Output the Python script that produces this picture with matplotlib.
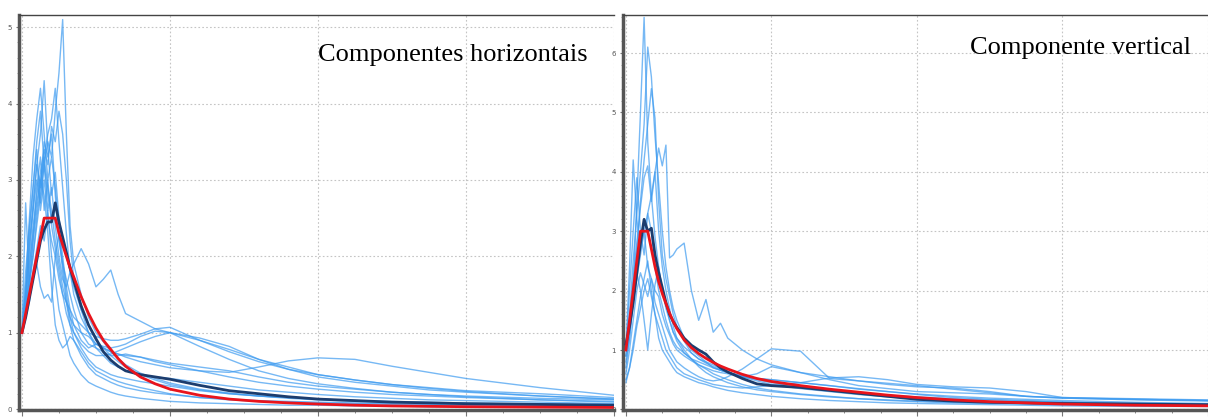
import numpy as np
import matplotlib
matplotlib.use('Agg')
import matplotlib.pyplot as plt
from matplotlib.ticker import MultipleLocator

# periods (s)
periods = [0, .025, .05, .075, .1, .125, .15, .175, .2, .225, .25, .275, .3, .325, .35, .4, .45, .5,
           .55, .6, .65, .7, .8, .9, 1.0, 1.2, 1.4, 1.6, 1.8, 2.0, 2.25, 2.5, 2.75, 3.0, 3.5, 4.0]

# horizontal components - individual records
h_records = [
    [1, 1.3, 1.7, 2.0, 2.4, 2.8, 3.2, 3.5, 3.3, 3.9, 4.4, 5.1, 3.6, 2.4, 1.9, 1.5, 1.2, 1.0,
     0.88, 0.75, 0.66, 0.58, 0.47, 0.40, 0.34, 0.26, 0.21, 0.17, 0.15, 0.13, 0.11, 0.10, 0.09, 0.08, 0.07, 0.06],
    [1, 1.5, 2.2, 2.6, 3.2, 3.6, 4.3, 3.4, 2.8, 3.1, 2.5, 2.2, 2.0, 1.8, 1.9, 2.1, 1.9, 1.6,
     1.7, 1.82, 1.5, 1.25, 1.15, 1.05, 1.0, 0.9, 0.78, 0.65, 0.55, 0.45, 0.38, 0.32, 0.28, 0.24, 0.2, 0.15],
    [1, 1.4, 1.9, 2.3, 2.7, 3.0, 3.3, 3.6, 3.8, 4.2, 3.5, 2.9, 2.3, 1.8, 1.5, 1.2, 1.0, 0.85,
     0.8, 0.75, 0.72, 0.68, 0.62, 0.58, 0.54, 0.5, 0.48, 0.55, 0.63, 0.67, 0.65, 0.56, 0.48, 0.40, 0.28, 0.18],
    [1, 1.8, 2.4, 2.9, 3.4, 2.6, 3.0, 2.5, 2.2, 2.0, 1.7, 1.5, 1.4, 1.3, 1.2, 1.1, 1.0, 0.95,
     0.92, 0.9, 0.9, 0.92, 0.98, 1.05, 1.07, 0.9, 0.75, 0.62, 0.52, 0.42, 0.35, 0.3, 0.25, 0.22, 0.17, 0.13],
    [1, 2.7, 1.6, 2.2, 2.9, 3.3, 2.6, 3.0, 2.4, 2.1, 1.8, 1.5, 1.25, 1.1, 1.0, 0.85, 0.75, 0.7,
     0.7, 0.72, 0.76, 0.8, 0.88, 0.95, 1.0, 0.82, 0.65, 0.5, 0.4, 0.33, 0.27, 0.22, 0.19, 0.16, 0.12, 0.09],
    [1, 1.2, 1.5, 1.7, 1.9, 1.6, 1.45, 1.5, 1.4, 2.0, 2.3, 1.9, 1.5, 1.2, 1.0, 0.8, 0.65, 0.55,
     0.5, 0.45, 0.42, 0.4, 0.36, 0.33, 0.3, 0.24, 0.2, 0.17, 0.15, 0.13, 0.11, 0.09, 0.08, 0.07, 0.06, 0.05],
    [1, 1.6, 2.5, 3.3, 3.8, 4.2, 3.6, 3.0, 3.3, 2.9, 2.4, 2.0, 1.6, 1.3, 1.1, 0.9, 0.8, 0.85,
     0.8, 0.75, 0.72, 0.7, 0.68, 0.62, 0.58, 0.5, 0.42, 0.35, 0.3, 0.26, 0.22, 0.19, 0.17, 0.15, 0.12, 0.1],
    [1, 1.3, 1.8, 2.4, 2.8, 3.1, 3.4, 3.2, 3.7, 3.5, 3.9, 3.6, 3.0, 2.2, 1.7, 1.3, 1.1, 0.9,
     0.8, 0.7, 0.62, 0.55, 0.45, 0.38, 0.32, 0.25, 0.2, 0.17, 0.14, 0.12, 0.1, 0.09, 0.08, 0.07, 0.05, 0.04],
    [1, 1.4, 2.0, 2.6, 3.0, 2.7, 3.2, 2.8, 2.5, 2.7, 2.3, 1.8, 1.4, 1.1, 0.9, 0.7, 0.55, 0.45,
     0.4, 0.35, 0.31, 0.28, 0.24, 0.21, 0.19, 0.15, 0.13, 0.11, 0.1, 0.09, 0.08, 0.07, 0.06, 0.05, 0.04, 0.03],
    [1, 1.5, 2.1, 2.7, 3.2, 2.9, 3.5, 3.3, 3.6, 2.8, 2.2, 1.9, 1.7, 1.5, 1.3, 1.0, 0.85, 0.8,
     0.75, 0.7, 0.7, 0.72, 0.68, 0.64, 0.6, 0.55, 0.5, 0.42, 0.35, 0.3, 0.26, 0.22, 0.19, 0.17, 0.14, 0.12],
    [1, 1.3, 1.7, 2.2, 2.6, 3.0, 2.8, 2.3, 1.6, 1.1, 0.9, 0.8, 0.85, 0.95, 0.9, 0.75, 0.6, 0.5,
     0.45, 0.4, 0.36, 0.33, 0.28, 0.24, 0.2, 0.15, 0.12, 0.1, 0.09, 0.08, 0.07, 0.06, 0.05, 0.05, 0.04, 0.03],
    [1, 1.2, 1.6, 2.0, 2.5, 2.9, 3.3, 2.9, 2.6, 2.2, 1.9, 1.6, 1.4, 1.2, 1.1, 1.0, 0.95, 0.85,
     0.82, 0.8, 0.82, 0.85, 0.95, 1.02, 1.0, 0.93, 0.82, 0.65, 0.52, 0.45, 0.38, 0.32, 0.27, 0.23, 0.17, 0.13],
    [1, 1.5, 2.3, 2.9, 3.5, 3.9, 3.2, 2.6, 2.9, 2.4, 2.0, 1.7, 1.6, 1.8, 1.6, 1.3, 1.0, 0.8,
     0.7, 0.6, 0.55, 0.5, 0.45, 0.42, 0.4, 0.35, 0.3, 0.25, 0.22, 0.19, 0.16, 0.14, 0.12, 0.11, 0.09, 0.07],
    [1, 1.2, 1.4, 1.8, 2.1, 2.4, 2.2, 2.6, 2.0, 1.7, 1.3, 1.1, 0.9, 0.7, 0.6, 0.45, 0.35, 0.3,
     0.26, 0.22, 0.19, 0.17, 0.14, 0.12, 0.1, 0.08, 0.07, 0.06, 0.05, 0.05, 0.04, 0.04, 0.03, 0.03, 0.02, 0.02],
]
h_mean = [1, 1.2, 1.45, 1.7, 1.95, 2.2, 2.35, 2.45, 2.45, 2.7, 2.45, 2.25, 2.05, 1.85, 1.68, 1.35, 1.1, 0.92,
          0.75, 0.64, 0.56, 0.5, 0.45, 0.42, 0.39, 0.31, 0.24, 0.2, 0.16, 0.13, 0.11, 0.09, 0.08, 0.07, 0.06, 0.05]
h_code = [1, 1.25, 1.5, 1.75, 2.0, 2.25, 2.5, 2.5, 2.5, 2.5, 2.3, 2.15, 2.0, 1.85, 1.73, 1.47, 1.25, 1.06,
          0.9, 0.78, 0.66, 0.56, 0.42, 0.33, 0.26, 0.18, 0.13, 0.1, 0.08, 0.065, 0.05, 0.04, 0.035, 0.03, 0.025, 0.02]

# vertical component - individual records
v_records = [
    [0.9, 1.3, 2.0, 3.5, 5.0, 6.6, 4.5, 3.6, 2.9, 2.4, 2.0, 1.8, 1.5, 1.3, 1.15, 0.95, 0.85, 0.75,
     0.68, 0.6, 0.55, 0.5, 0.42, 0.36, 0.32, 0.26, 0.22, 0.18, 0.16, 0.14, 0.12, 0.11, 0.1, 0.09, 0.08, 0.07],
    [1.0, 1.6, 2.5, 3.3, 4.0, 4.8, 6.1, 5.6, 4.6, 3.8, 3.0, 2.4, 2.0, 1.7, 1.5, 1.2, 1.0, 0.9,
     0.8, 0.7, 0.66, 0.62, 0.55, 0.5, 0.45, 0.38, 0.32, 0.27, 0.24, 0.21, 0.18, 0.16, 0.14, 0.12, 0.1, 0.08],
    [0.8, 1.2, 1.9, 2.7, 3.5, 4.2, 4.8, 5.4, 4.9, 3.5, 2.6, 2.2, 1.9, 1.6, 1.4, 1.15, 0.95, 0.85,
     0.78, 0.72, 0.66, 0.62, 0.57, 0.52, 0.5, 0.45, 0.4, 0.34, 0.3, 0.26, 0.22, 0.19, 0.17, 0.15, 0.12, 0.1],
    [1.0, 2.4, 4.2, 3.2, 2.7, 3.0, 2.4, 2.2, 2.0, 1.9, 1.6, 1.4, 1.25, 1.1, 1.0, 0.9, 0.82, 0.75,
     0.7, 0.65, 0.62, 0.6, 0.55, 0.52, 0.5, 0.45, 0.4, 0.35, 0.3, 0.25, 0.2, 0.17, 0.15, 0.13, 0.1, 0.08],
    [0.9, 1.3, 1.8, 2.2, 2.6, 3.0, 3.3, 3.6, 4.0, 4.4, 4.1, 4.45, 2.55, 2.6, 2.7, 2.8, 2.0, 1.5,
     1.85, 1.3, 1.45, 1.2, 1.0, 0.85, 0.75, 0.62, 0.55, 0.48, 0.42, 0.38, 0.36, 0.3, 0.22, 0.19, 0.17, 0.15],
    [0.6, 1.0, 1.5, 2.0, 2.3, 2.1, 1.9, 2.2, 1.8, 1.6, 1.4, 1.2, 1.0, 0.9, 0.8, 0.7, 0.62, 0.55,
     0.5, 0.48, 0.5, 0.55, 0.68, 0.85, 1.02, 0.98, 0.52, 0.48, 0.44, 0.4, 0.34, 0.28, 0.22, 0.19, 0.16, 0.14],
    [0.5, 0.7, 1.0, 1.4, 1.7, 2.0, 2.2, 1.9, 1.6, 1.4, 1.2, 1.0, 0.9, 0.8, 0.7, 0.6, 0.55, 0.5,
     0.46, 0.42, 0.4, 0.38, 0.36, 0.38, 0.4, 0.45, 0.53, 0.55, 0.5, 0.42, 0.38, 0.36, 0.3, 0.2, 0.17, 0.15],
    [1.0, 1.5, 2.2, 2.8, 3.4, 3.9, 4.1, 3.5, 4.0, 3.0, 2.4, 2.0, 1.7, 1.4, 1.2, 1.0, 0.85, 0.72,
     0.62, 0.55, 0.5, 0.45, 0.38, 0.33, 0.3, 0.25, 0.21, 0.18, 0.15, 0.13, 0.11, 0.1, 0.09, 0.08, 0.07, 0.06],
    [0.45, 0.7, 1.1, 1.5, 1.9, 2.2, 2.5, 2.0, 1.6, 1.2, 1.0, 0.9, 0.8, 0.7, 0.62, 0.55, 0.5, 0.45,
     0.42, 0.38, 0.35, 0.32, 0.28, 0.25, 0.22, 0.18, 0.15, 0.13, 0.11, 0.1, 0.09, 0.08, 0.07, 0.06, 0.05, 0.05],
    [0.7, 1.2, 1.8, 2.3, 2.0, 1.5, 1.0, 1.6, 2.1, 2.4, 2.0, 1.7, 1.5, 1.3, 1.2, 1.05, 0.95, 0.85,
     0.8, 0.75, 0.68, 0.62, 0.55, 0.6, 0.72, 0.62, 0.5, 0.4, 0.35, 0.3, 0.28, 0.26, 0.22, 0.2, 0.18, 0.16],
    [1.0, 2.0, 3.0, 3.9, 3.0, 2.6, 3.3, 3.0, 2.4, 2.0, 1.75, 1.5, 1.3, 1.15, 1.05, 0.95, 0.85, 0.8,
     0.75, 0.7, 0.66, 0.62, 0.55, 0.48, 0.42, 0.35, 0.3, 0.25, 0.21, 0.18, 0.15, 0.13, 0.11, 0.1, 0.08, 0.07],
]
v_mean = [1.1, 1.4, 1.8, 2.3, 2.8, 3.2, 3.0, 3.05, 2.6, 2.3, 2.05, 1.8, 1.6, 1.48, 1.38, 1.2, 1.08, 1.0,
          0.93, 0.8, 0.7, 0.63, 0.52, 0.43, 0.4, 0.37, 0.32, 0.27, 0.22, 0.17, 0.14, 0.12, 0.11, 0.1, 0.09, 0.08]
v_code = [1, 1.5, 2.0, 2.5, 3.0, 3.0, 3.0, 2.7, 2.4, 2.15, 1.95, 1.78, 1.62, 1.48, 1.36, 1.17, 1.04, 0.94,
          0.86, 0.79, 0.73, 0.68, 0.59, 0.52, 0.47, 0.4, 0.34, 0.29, 0.24, 0.2, 0.16, 0.13, 0.11, 0.09, 0.07, 0.06]

titles = ['Componentes horizontais', 'Componente vertical']

W, H = 1208, 419
fig = plt.figure(figsize=(W / 100, H / 100), dpi=100)

def px_axes(x0, x1, y0, y1):
    # pixel box (top-left origin) -> figure fraction
    return fig.add_axes([x0 / W, 1 - y1 / H, (x1 - x0) / W, (y1 - y0) / H])

ax1 = px_axes(19, 614, 15, 410)
ax2 = px_axes(623, 1208, 15, 410)

panels = [
    (ax1, h_records, h_mean, h_code, (-0.02, 4.0), (-0.013, 5.16), 5),
    (ax2, v_records, v_mean, v_code, (-0.02, 3.93), (-0.01, 6.64), 6),
]

for ax, recs, mean, code, xl, yl, ymax in panels:
    for r in recs:
        ax.plot(periods, r, color='#3d9bf0', lw=1.0, alpha=0.7, zorder=2)
    ax.plot(periods, mean, color='#1c3d6e', lw=2.0, zorder=3)
    ax.plot(periods, code, color='#e8141c', lw=2.0, zorder=4)
    ax.set_xlim(*xl)
    ax.set_ylim(*yl)
    ax.set_xticks([0, 1, 2, 3, 4])
    ax.xaxis.set_minor_locator(MultipleLocator(0.25))
    ax.set_yticks(range(0, ymax + 1))
    ax.yaxis.set_minor_locator(MultipleLocator(0.2))
    ax.grid(True, which='major', color='#c4c4c4', ls=(0, (1.5, 2)), lw=0.8)
    ax.tick_params(axis='x', which='both', direction='out', labelbottom=False, colors='#777777')
    ax.tick_params(axis='x', which='major', length=4)
    ax.tick_params(axis='x', which='minor', length=2)
    ax.tick_params(axis='y', which='major', direction='out', length=2, labelsize=5,
                   labelcolor='#555555', colors='#777777', pad=3)
    ax.tick_params(axis='y', which='minor', direction='out', length=1.5, colors='#999999')
    ax.spines['right'].set_visible(False)
    ax.spines['top'].set_color('#444444')
    ax.spines['top'].set_linewidth(1.0)
    for s in ('left', 'bottom'):
        ax.spines[s].set_color('#555555')
        ax.spines[s].set_linewidth(2.5)

fig.text(318 / W, 1 - 55 / H, titles[0], family='Liberation Serif', fontsize=19, va='center')
fig.text(970 / W, 1 - 48 / H, titles[1], family='Liberation Serif', fontsize=19, va='center')

fig.savefig('out.png', dpi=100)
